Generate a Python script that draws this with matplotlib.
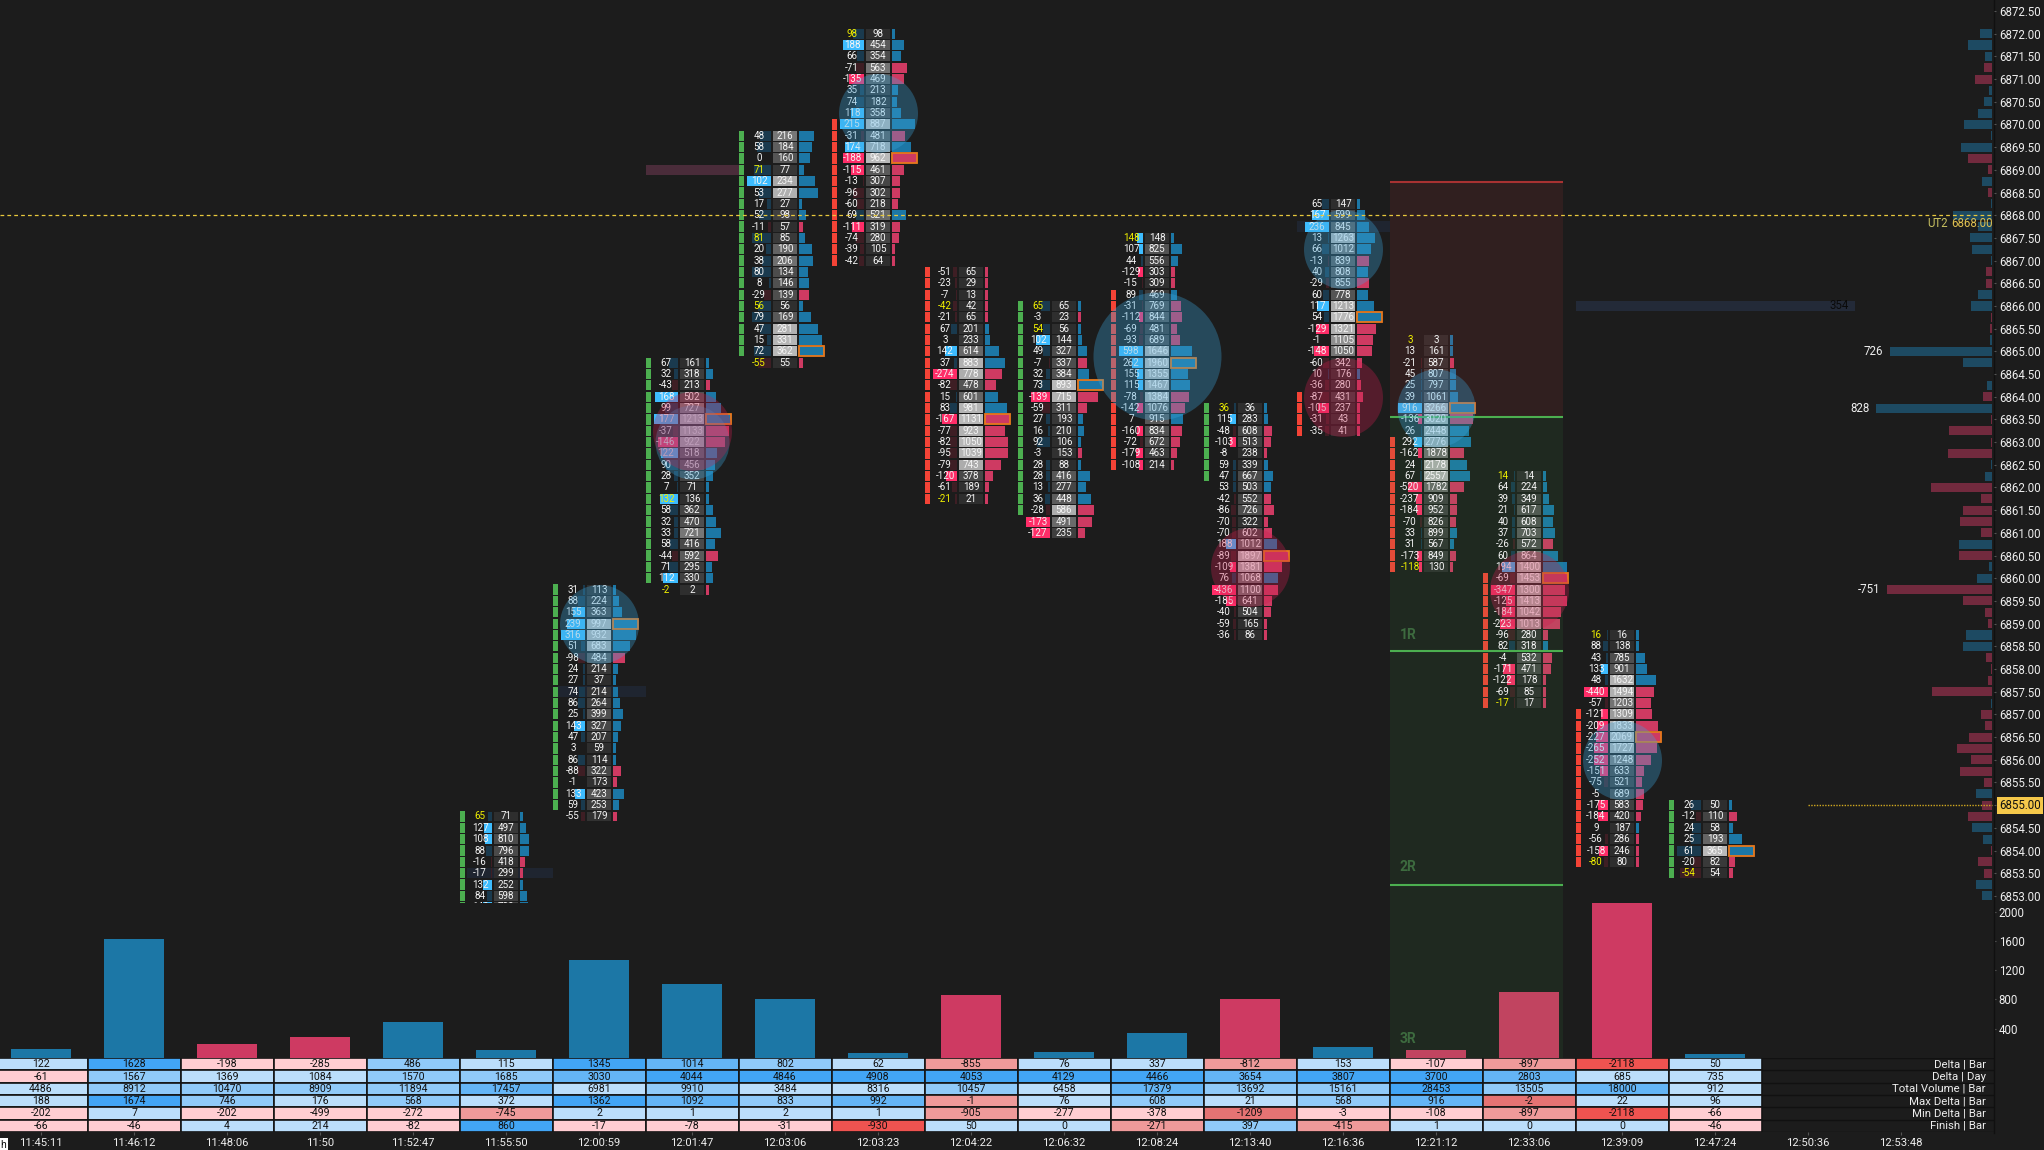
import numpy as np
import matplotlib
matplotlib.use('Agg')
import matplotlib.pyplot as plt

plt.rcParams['font.family'] = ['Roboto', 'DejaVu Sans']

W, H = 2044, 1150
BG = '#1c1c1c'

times = ['11:45:11', '11:46:12', '11:48:06', '11:50', '11:52:47', '11:55:50', '12:00:59', '12:01:47',
         '12:03:06', '12:03:23', '12:04:22', '12:06:32', '12:08:24', '12:13:40', '12:16:36', '12:21:12',
         '12:33:06', '12:39:09', '12:47:24', '12:50:36', '12:53:48']

table_labels = ['Delta | Bar', 'Delta | Day', 'Total Volume | Bar', 'Max Delta | Bar', 'Min Delta | Bar', 'Finish | Bar']
delta_bar = [122, 1628, -198, -285, 486, 115, 1345, 1014, 802, 62, -855, 76, 337, -812, 153, -107, -897, -2118, 50]
delta_day = [-61, 1567, 1369, 1084, 1570, 1685, 3030, 4044, 4846, 4908, 4053, 4129, 4466, 3654, 3807, 3700, 2803, 685, 735]
total_vol = [4486, 8912, 10470, 8909, 11894, 17457, 6981, 9910, 3484, 8316, 10457, 6458, 17379, 13692, 15161, 28453, 13505, 18000, 912]
max_delta = [188, 1674, 746, 176, 568, 372, 1362, 1092, 833, 992, -1, 76, 608, 21, 568, 916, -2, 22, 96]
min_delta = [-202, 7, -202, -499, -272, -745, 2, 1, 2, 1, -905, -277, -378, -1209, -3, -108, -897, -2118, -66]
finish = [-66, -46, 4, 214, -82, 860, -17, -78, -31, -930, 50, 0, -271, 397, -415, 1, 0, 0, -46]

# colour strength of the table cells, 1 to 4
delta_bar_lv = [1, 4, 1, 1, 2, 1, 4, 3, 2, 1, 2, 1, 1, 2, 1, 1, 2, 4, 1]
delta_day_lv = [1, 2, 1, 1, 2, 2, 3, 4, 4, 4, 4, 4, 4, 3, 4, 4, 3, 1, 1]
total_vol_lv = [1, 2, 2, 2, 2, 3, 1, 2, 1, 1, 2, 1, 3, 2, 2, 4, 2, 3, 1]
max_delta_lv = [1, 4, 2, 1, 2, 1, 4, 3, 2, 3, 2, 1, 2, 1, 2, 3, 3, 1, 1]
min_delta_lv = [1, 1, 1, 1, 1, 2, 1, 1, 1, 1, 2, 1, 1, 3, 1, 1, 2, 4, 1]
finish_lv = [1, 1, 1, 1, 1, 4, 1, 1, 1, 4, 1, 1, 2, 2, 2, 1, 1, 1, 1]

# footprint columns, first price then one value per 0.25 going down
fp_cols = [5, 6, 7, 8, 9, 10, 11, 12, 13, 14, 15, 16, 17, 18]
fp_top = [6854.75, 6859.75, 6864.75, 6869.75, 6872.0, 6866.75, 6866.0, 6867.5, 6863.75, 6868.25, 6865.25, 6862.25, 6858.75, 6855.0]
fp_delta = [
    [65, 127, 108, 88, -16, -17, 132, 84, 140, 372],
    [31, 88, 155, 239, 316, 51, -98, 24, 27, 74, 86, 25, 143, 47, 3, 86, -88, -1, 133, 59, -55],
    [67, 32, -43, 168, 99, 177, -37, -146, 122, 90, 28, 7, 132, 58, 32, 33, 58, -44, 71, 112, -2],
    [48, 58, 0, 71, 102, 53, 17, 52, -11, 81, 20, 38, 80, 8, -29, 56, 79, 47, 15, 72, -55],
    [98, 188, 66, -71, -135, 35, 74, 118, 215, -31, 174, -188, -115, -13, -96, -60, 69, -111, -74, -39, -42],
    [-51, -23, -7, -42, -21, 67, 3, 142, 37, -274, -82, 15, 83, -167, -77, -82, -95, -79, -120, -61, -21],
    [65, -3, 54, 102, 49, -7, 32, 73, -139, -59, 27, 16, 92, -3, 28, 28, 13, 36, -28, -173, -127],
    [148, 107, 44, -129, -15, 89, -31, -112, -69, -93, 598, 262, 155, 115, -78, -142, 7, -160, -72, -179, -108],
    [36, 115, -48, -103, -8, 59, 47, 53, -42, -86, -70, -70, 188, -89, -109, 76, -436, -185, -40, -59, -36],
    [65, 167, 236, 13, 66, -13, 40, -29, 60, 117, 54, -129, -1, -148, -60, 10, -36, -87, -105, -31, -35],
    [3, 13, -21, 45, 25, 39, 916, -136, 26, 292, -162, 24, 67, -520, -237, -184, -70, 33, 31, -173, -118],
    [14, 64, 39, 21, 40, 37, -26, 60, 194, -69, -347, -125, -184, -223, -96, 82, -4, -171, -122, -69, -17],
    [16, 88, 43, 133, 48, -440, -57, -121, -209, -227, -265, -252, -151, -75, -5, -175, -184, 9, -56, -158, -80],
    [26, -12, 24, 25, 61, -20, -54],
]
fp_volume = [
    [71, 497, 810, 796, 418, 299, 252, 598, 720, 2250],
    [113, 224, 363, 997, 932, 683, 484, 214, 37, 214, 264, 399, 327, 207, 59, 114, 322, 173, 423, 253, 179],
    [161, 318, 213, 502, 727, 1213, 1133, 922, 518, 456, 352, 71, 136, 362, 470, 721, 416, 592, 295, 330, 2],
    [216, 184, 160, 77, 234, 277, 27, 98, 57, 85, 190, 206, 134, 146, 139, 56, 169, 281, 331, 362, 55],
    [98, 454, 354, 563, 469, 213, 182, 358, 887, 481, 718, 962, 461, 307, 302, 218, 521, 319, 280, 105, 64],
    [65, 29, 13, 42, 65, 201, 233, 614, 883, 778, 478, 601, 981, 1131, 923, 1050, 1039, 743, 378, 189, 21],
    [65, 23, 56, 144, 327, 337, 384, 893, 715, 311, 193, 210, 106, 153, 88, 416, 277, 448, 586, 491, 235],
    [148, 825, 556, 303, 309, 469, 769, 844, 481, 689, 1646, 1960, 1355, 1467, 1384, 1076, 915, 834, 672, 463, 214],
    [36, 283, 608, 513, 238, 339, 667, 503, 552, 726, 322, 602, 1012, 1897, 1381, 1068, 1100, 641, 504, 165, 86],
    [147, 599, 845, 1263, 1012, 839, 808, 855, 778, 1213, 1776, 1321, 1105, 1050, 342, 176, 280, 431, 237, 43, 41],
    [3, 161, 587, 807, 797, 1061, 3266, 3020, 2448, 2776, 1878, 2178, 2557, 1782, 909, 952, 826, 899, 567, 849, 130],
    [14, 224, 349, 617, 608, 703, 572, 864, 1400, 1453, 1300, 1413, 1042, 1013, 280, 318, 532, 471, 178, 85, 17],
    [16, 138, 785, 901, 1632, 1494, 1203, 1309, 1833, 2069, 1727, 1248, 633, 521, 689, 583, 420, 187, 286, 246, 80],
    [50, 110, 58, 193, 365, 82, 54],
]
# first row, last row and direction of the strip left of each footprint
fp_status = [(0, 9, 1), (0, 19, 1), (0, 19, 1), (0, 19, 1), (8, 20, -1), (0, 20, -1), (0, 18, 1), (5, 20, -1),
             (0, 6, 1), (17, 20, -1), (9, 20, -1), (9, 20, -1), (7, 20, -1), (0, 6, 1)]

# column, price, radius in px, direction
bubbles = [(6, 6859.0, 39.5, 1), (7, 6863.0, 37, 1), (7, 6863.25, 39.5, -1), (9, 6870.25, 39.5, 1),
           (12, 6864.9, 64, 1), (13, 6860.25, 39.5, -1), (14, 6867.25, 39.5, 1), (14, 6864.0, 39.5, -1),
           (15, 6863.75, 39, 1), (16, 6859.75, 39.5, -1), (17, 6856.0, 39.5, 1)]

# naked lines: from column, to column, price, colour
bands = [(4.58, 5.5, 6853.5, '#1f2530'), (5.56, 6.5, 6857.5, '#1f2530'), (6.5, 7.5, 6869.0, '#4a2c3a'),
         (13.5, 14.5, 6867.75, '#1f2530'), (16.5, 19.5, 6866.0, '#232a38')]

vp_prices = [6872.0 - 0.25 * n for n in range(77)]
vp_values = [86, 174, 50, -57, -121, 21, 57, 100, 200, 7, 221, -171, -29, 71, -29, 7, 279, 100, 157, 143, 7, -43, -43,
             100, 150, -7, -14, 14, 726, 207, 3, 36, -64, 828, -7, -307, -7, -314, 7, 50, -436, -79, -207, -229, -79,
             236, -236, 21, 107, -751, -207, -50, -29, 186, 207, -43, -7, -29, -429, 7, -79, -50, -164, -250, -150,
             -229, -57, 114, -71, -171, 143, 64, -7, -100, -57, 114, 71]

box_left, box_right = 14.505, 16.366
r_stop, r_entry, r_1, r_2 = 6868.73, 6863.55, 6858.4, 6853.24

blues = {1: '#bbdefb', 2: '#90caf9', 3: '#64b5f6', 4: '#42a5f5'}
reds = {1: '#ffcdd2', 2: '#ef9a9a', 3: '#e57373', 4: '#ef5350'}
BLUE, RED = '#1c77a6', '#ce3a62'
u = 1 / 93  # one pixel in column units


def panel(x0, y0, x1, y1):
    ax = fig.add_axes([x0 / W, 1 - y1 / H, (x1 - x0) / W, (y1 - y0) / H])
    ax.set_facecolor('none')
    for s in ax.spines.values():
        s.set_visible(False)
    return ax


fig = plt.figure(figsize=(W / 100, H / 100), dpi=100, facecolor=BG)
xlim = (-41 / 93, (1994 - 41) / 93)
ylim = (6872.5 - 892 / 45.38, 6872.5 + 11 / 45.38)

# main price panel
ax = panel(0, 0, 1994, 903)
ax.set_zorder(2)
ax.set_xlim(xlim)
ax.set_ylim(ylim)
ticks = np.arange(6853, 6872.51, 0.5)
ax.yaxis.tick_right()
ax.set_yticks(ticks)
ax.set_yticklabels(['' if t == 6855 else f'{t:.2f}' for t in ticks])
ax.set_xticks([])
ax.tick_params(axis='y', length=1.5, color='#555555', labelcolor='#eeeeee', labelsize=8.3, pad=2)

for x0, x1, p, c in bands:
    ax.barh(p, x1 - x0, left=x0, height=0.23, color=c, zorder=1)

for col, top, deltas, vols, st in zip(fp_cols, fp_top, fp_delta, fp_volume, fp_status):
    d = np.array(deltas, dtype=float)
    v = np.array(vols, dtype=float)
    p = top - 0.25 * np.arange(len(d))
    r = v / v.max()
    rd = np.abs(d) / np.abs(d).max()

    colors = []
    for a in d:
        if a >= 100:
            colors.append('#3dbcff')
        elif a <= -100:
            colors.append('#ff2d68')
        elif a >= 0:
            colors.append('#1a3a4e')
        else:
            colors.append('#3e1e24')
    w = rd * 24 * u
    ax.barh(p, w, left=col - 14 * u - w, height=0.22, color=colors, zorder=2)

    grays = np.interp(r, [0.15, 0.3, 0.5, 0.6, 0.65, 1], [46, 68, 92, 120, 172, 185]) / 255
    ax.barh(p, 24 * u, left=col - 12 * u, height=0.22, color=[(g, g, g) for g in grays], zorder=2)

    pw = np.maximum(3, 25 * r) * u
    ax.barh(p, pw, left=col + 14 * u, height=0.22, color=[BLUE if a >= 0 else RED for a in d], zorder=2)
    poc = int(np.argmax(v))
    if col != 5:
        ax.barh(p[poc], pw[poc], left=col + 14 * u, height=0.22, facecolor='none', edgecolor='#e8791d', lw=1.3, zorder=2.2)

    a, b, sign = st
    ax.barh(p[a:b + 1], 5 * u, left=col - 46 * u, height=0.225, color='#4caf50' if sign > 0 else '#f44336', zorder=2)

    for pi, di, vi in zip(p, deltas, vols):
        yellow = abs(di) / vi >= 0.9
        ax.text(col - 26 * u, pi, str(di), color='#f2f200' if yellow else '#f4f4f4', fontsize=7.1, ha='center', va='center',
                zorder=3, clip_on=True)
        ax.text(col, pi, str(vi), color='#f4f4f4', fontsize=7.1, ha='center', va='center', zorder=3, clip_on=True)

# trade box
ax.fill_between([box_left, box_right], r_entry, r_stop, color='#e63c3c', alpha=0.1, lw=0, zorder=2.5)
ax.fill_between([box_left, box_right], ylim[0], r_entry, color='#46af50', alpha=0.09, lw=0, zorder=2.5)
ax.hlines(r_stop, box_left, box_right, color='#a83232', lw=1.5, zorder=2.6)
ax.hlines([r_entry, r_1, r_2], box_left, box_right, color='#4caf50', lw=1.5, zorder=2.6)
ax.text(box_left + 10 * u, 6858.76, '1R', color='#3d6b3f', fontsize=10, fontweight='bold', va='center', zorder=3)
ax.text(box_left + 10 * u, 6853.64, '2R', color='#3d6b3f', fontsize=10, fontweight='bold', va='center', zorder=3)

for col, price, rad, sign in bubbles:
    ax.scatter(col, price, s=(2 * rad * 0.72) ** 2, lw=0, zorder=4,
               color=(0.235, 0.647, 0.863, 0.33) if sign > 0 else (0.80, 0.12, 0.31, 0.32))

ax.hlines(6868.0, xlim[0], xlim[1] - 2 * u, color='#e8c83c', lw=0.9, linestyles=(0, (3, 2.5)), zorder=5)
ax.hlines(6855.0, 19, xlim[1] - 2 * u, color='#d0a820', lw=1, linestyles=(0, (1, 1)), zorder=5)
ytr = ax.get_yaxis_transform()
ax.text(1993 / 1994, 6867.82, '6868.00', transform=ytr, color='#e0c050', fontsize=8.3, ha='right', va='center', zorder=5)
ax.text(1948 / 1994, 6867.82, 'UT2', transform=ytr, color='#c8c060', fontsize=8.3, ha='right', va='center', zorder=5)
ax.text(1.0024, 6855.0, '6855.00', transform=ytr, color='#111111', fontsize=8.3, ha='left', va='center', clip_on=False,
        bbox=dict(facecolor='#f5c84a', edgecolor='none', pad=1.5), zorder=6)
ax.text((1839 - 41) / 93, 6866.0, '354', color='#0a0a0a', fontsize=8.3, ha='center', va='center', zorder=3)

# volume profile on the right
axp = panel(1576, 0, 1992, 903)
axp.set_zorder(1)
axp.set_xlim(-416 / 0.14, 0)
axp.set_ylim(ylim)
axp.set_xticks([])
axp.set_yticks([])
vals = np.array(vp_values)
axp.barh(vp_prices, -np.abs(vals), height=0.2, color=['#1d4a62' if a > 0 else '#722a3e' for a in vals], zorder=2)
for pr, a in zip(vp_prices, vp_values):
    if abs(a) > 700:
        axp.annotate(str(a), (-abs(a), pr), xytext=(-5, 0), textcoords='offset points', color='#eeeeee', fontsize=8.3,
                     ha='right', va='center')

# volume bars
axv = panel(0, 903, 1994, 1058)
axv.set_xlim(xlim)
axv.set_ylim(0, 155 / 0.0732)
axv.set_xticks([])
axv.yaxis.tick_right()
axv.set_yticks([400, 800, 1200, 1600, 2000])
axv.tick_params(axis='y', length=1.5, color='#555555', labelcolor='#eeeeee', labelsize=8.3, pad=2)
axv.bar(range(19), np.abs(delta_bar), width=60 * u, color=[BLUE if a >= 0 else RED for a in delta_bar], zorder=2)
axv.fill_between([box_left, box_right], 0, 155 / 0.0732, color='#46af50', alpha=0.09, lw=0, zorder=2.5)
axv.text(box_left + 10 * u, 260, '3R', color='#3d6b3f', fontsize=10, fontweight='bold', va='center', zorder=3)

# table
axt = panel(0, 1058, 1994, 1132)
axt.set_xlim(xlim)
axt.set_ylim(6, 0)
axt.set_yticks([])
rows = [delta_bar, delta_day, total_vol, max_delta, min_delta, finish]
levels = [delta_bar_lv, delta_day_lv, total_vol_lv, max_delta_lv, min_delta_lv, finish_lv]
for r_i, (vals_r, lv) in enumerate(zip(rows, levels)):
    cols = [blues[l] if a >= 0 else reds[l] for a, l in zip(vals_r, lv)]
    axt.bar(range(19), 1, bottom=r_i, width=1, color=cols, edgecolor='#141414', lw=1.2)
    for i, a in enumerate(vals_r):
        axt.text(i, r_i + 0.5, str(a), color='#111111', fontsize=7.6, ha='center', va='center')
    axt.text((1986 - 41) / 93, r_i + 0.5, table_labels[r_i], color='#eeeeee', fontsize=8.2, ha='right', va='center')
axt.hlines(range(7), 18.5, xlim[1], color='#111111', lw=1)
axt.set_xticks(range(21))
axt.set_xticklabels(times)
axt.tick_params(axis='x', length=2, color='#555555', labelcolor='#eeeeee', labelsize=8.1, pad=2.5)

# axis line and the small box in the corner
fig.add_artist(plt.Line2D([1994 / W, 1994 / W], [1 - 1133 / H, 1], color='#101010', lw=1))
fig.text(3 / W, 1 - 1145 / H, 'h', color='#111111', fontsize=7.5, ha='center', va='center',
         bbox=dict(facecolor='white', edgecolor='none', pad=1.2))

fig.savefig('out.png', dpi=100, facecolor=BG)
